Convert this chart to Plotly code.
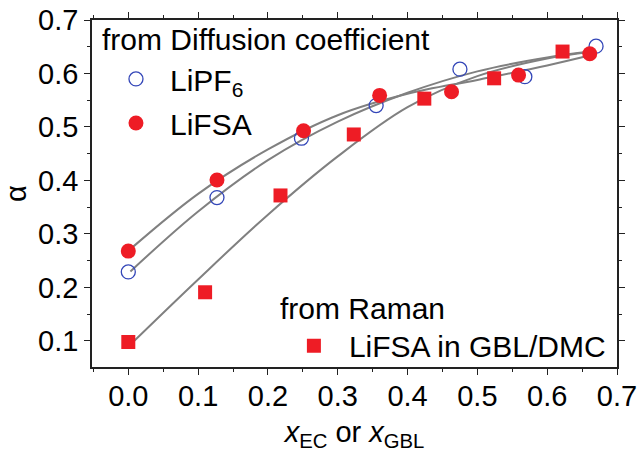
import plotly.graph_objects as go

# ---- data ----
x_lipf6 = [0.0, 0.127, 0.248, 0.355, 0.475, 0.568, 0.670]
a_lipf6 = [0.229, 0.368, 0.479, 0.540, 0.608, 0.594, 0.651]

x_lifsa = [0.0, 0.127, 0.251, 0.360, 0.463, 0.559, 0.661]
a_lifsa = [0.268, 0.401, 0.493, 0.559, 0.566, 0.597, 0.637]

x_raman = [0.0, 0.110, 0.218, 0.323, 0.424, 0.524, 0.622]
a_raman = [0.098, 0.191, 0.372, 0.486, 0.553, 0.591, 0.641]

# fit curves
fx_lipf6 = [0.003, 0.1, 0.2, 0.3, 0.4, 0.5, 0.6, 0.662]
fy_lipf6 = [0.230, 0.342, 0.438, 0.510, 0.564, 0.604, 0.630, 0.641]

fx_lifsa = [0.005, 0.1, 0.2, 0.3, 0.4, 0.5, 0.6, 0.662]
fy_lifsa = [0.274, 0.375, 0.458, 0.522, 0.562, 0.588, 0.615, 0.634]

fx_raman = [0.002, 0.1, 0.2, 0.3, 0.4, 0.5, 0.6, 0.662]
fy_raman = [0.092, 0.215, 0.336, 0.445, 0.537, 0.595, 0.628, 0.640]

x_ticks = [0.0, 0.1, 0.2, 0.3, 0.4, 0.5, 0.6, 0.7]
y_ticks = [0.1, 0.2, 0.3, 0.4, 0.5, 0.6, 0.7]

RED = "#EE1C25"
BLUE = "#3346B8"
GRAY = "#808080"
FONT = "Liberation Sans, Arial, sans-serif"
FS_TICK = 29
FS_TXT = 30

fig = go.Figure()

for fx, fy in [(fx_raman, fy_raman), (fx_lipf6, fy_lipf6), (fx_lifsa, fy_lifsa)]:
    fig.add_trace(go.Scatter(x=fx, y=fy, mode="lines",
                             line=dict(color=GRAY, width=2, shape="spline", smoothing=1.0),
                             showlegend=False, hoverinfo="skip"))

fig.add_trace(go.Scatter(x=x_lipf6, y=a_lipf6, mode="markers", name="LiPF<sub>6</sub>",
                         marker=dict(symbol="circle-open", size=14, color=BLUE, line=dict(width=1.3, color=BLUE)),
                         legend="legend", legendgroup="a"))
fig.add_trace(go.Scatter(x=x_lifsa, y=a_lifsa, mode="markers", name="LiFSA",
                         marker=dict(symbol="circle", size=15, color=RED),
                         legend="legend", legendgroup="b"))
fig.add_trace(go.Scatter(x=x_raman, y=a_raman, mode="markers", name="LiFSA in GBL/DMC",
                         marker=dict(symbol="square", size=14, color=RED),
                         legend="legend2"))

axis_common = dict(
    showline=True, linecolor="#222222", linewidth=1.6, mirror="allticks",
    ticks="outside", ticklen=6, tickwidth=1.4, tickcolor="#222222",
    showgrid=False, zeroline=False, ticklabeloverflow="allow", automargin=False,
    tickfont=dict(family=FONT, size=FS_TICK, color="black"),
)

fig.update_xaxes(range=[-0.052, 0.7], tickvals=x_ticks, tickformat=".1f", ticklabelstandoff=-4,
                 minor=dict(dtick=0.05, tick0=0, ticks="outside", ticklen=3, tickwidth=1.4, tickcolor="#222222"),
                 title=dict(text="<i>x</i><sub>EC</sub> or <i>x</i><sub>GBL</sub>",
                            font=dict(family=FONT, size=FS_TICK, color="black"), standoff=14),
                 **axis_common)
fig.update_yaxes(range=[0.0513, 0.7], tickvals=y_ticks, tickformat=".1f",
                 minor=dict(dtick=0.05, tick0=0, ticks="outside", ticklen=3, tickwidth=1.4, tickcolor="#222222"),
                 title=dict(text="α", font=dict(family=FONT, size=FS_TICK, color="black"), standoff=6),
                 **axis_common)

fig.update_layout(
    width=637, height=452,
    margin=dict(l=92, r=20, t=20, b=85),
    paper_bgcolor="white", plot_bgcolor="white",
    font=dict(family=FONT, size=FS_TXT, color="black"),
    legend=dict(x=0.019, y=0.905, xanchor="left", yanchor="top", bgcolor="rgba(0,0,0,0)",
                font=dict(family=FONT, size=FS_TXT), traceorder="grouped", tracegroupgap=2,
                itemwidth=58),
    legend2=dict(x=0.356, y=0.0614, xanchor="left", yanchor="middle", bgcolor="rgba(0,0,0,0)",
                 font=dict(family=FONT, size=FS_TXT), itemwidth=60),
    annotations=[
        dict(text="from Diffusion coefficient", xref="paper", yref="paper", x=0.0153, y=0.945,
             xanchor="left", yanchor="middle", showarrow=False, font=dict(family=FONT, size=FS_TXT)),
        dict(text="from Raman", xref="paper", yref="paper", x=0.354, y=0.170,
             xanchor="left", yanchor="middle", showarrow=False, font=dict(family=FONT, size=FS_TXT)),
    ],
)

fig.write_html("out.html")
